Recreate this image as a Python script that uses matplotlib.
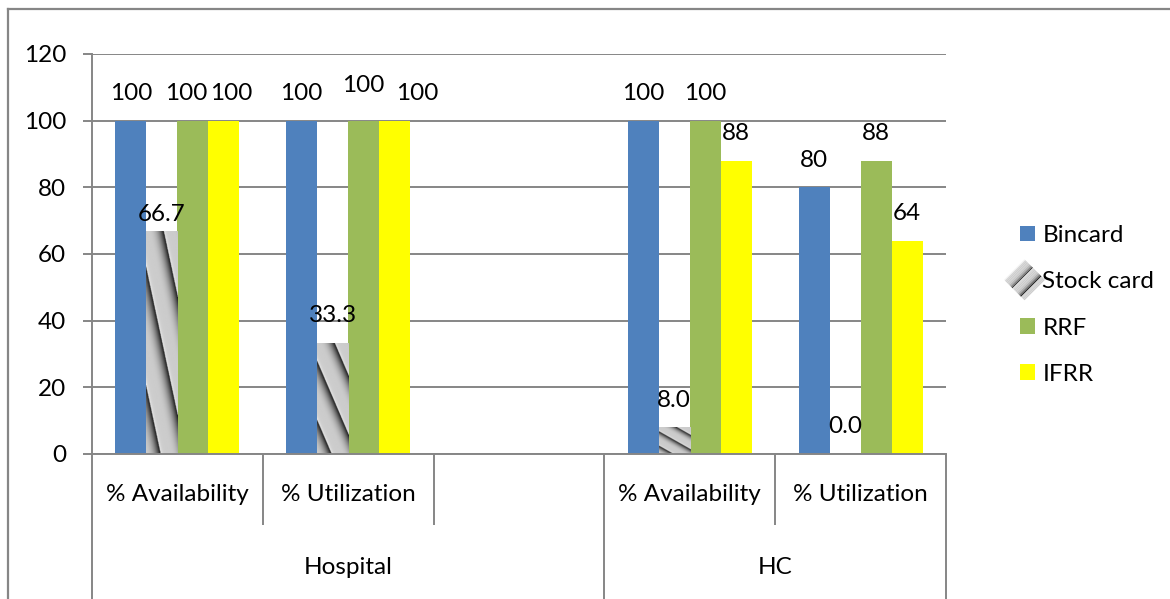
import numpy as np
import matplotlib
matplotlib.use("Agg")
import matplotlib.pyplot as plt
import matplotlib.transforms as mtransforms
from matplotlib.patches import Patch, Polygon
from matplotlib.legend_handler import HandlerBase
from matplotlib.lines import Line2D

plt.rcParams["font.family"] = ["Lato", "DejaVu Sans"]

# ---- data -----------------------------------------------------------------
categories = ["% Availability", "% Utilization", "", "% Availability", "% Utilization"]
groups = ["Hospital", "HC"]
group_members = [[0, 1, 2], [3, 4]]
series_names = ["Bincard", "Stock card", "RRF", "IFRR"]
bincard = [100, 100, np.nan, 100, 80]
stock_card = [66.7, 33.3, np.nan, 8.0, 0.0]
rrf = [100, 100, np.nan, 100, 88]
ifrr = [100, 100, np.nan, 88, 64]
y_ticks = [0, 20, 40, 60, 80, 100, 120]

series_values = [bincard, stock_card, rrf, ifrr]
series_colors = ["#4F81BD", "#C8C8C8", "#9BBB59", "#FFFF00"]
label_formats = ["{:.0f}", "{:.1f}", "{:.0f}", "{:.0f}"]

W, H = 1170, 599
FS = 17.5
GRID = "#868686"


def stripe_profile(p):
    """Grey level across one metallic stripe (p in [0, 1))."""
    g = 0.80 + 0.15 * np.exp(-p / 0.05)
    tail = np.clip((p - 0.35) / 0.65, 0, 1)
    return np.clip(g - 0.72 * tail ** 2.6, 0, 1)


def stripe_texture(rows=400, cols=100):
    u = np.linspace(0, 1, cols)[None, :]
    v = np.linspace(0, 1, rows)[:, None]
    p = np.mod((u - 1.5 * v) / 0.8 + 0.3, 1.0)
    return stripe_profile(p)


TEX = stripe_texture()


class StockCardHandler(HandlerBase):
    """Diamond-shaped striped legend key."""

    def create_artists(self, legend, orig_handle, xdescent, ydescent,
                       width, height, fontsize, trans):
        cx = -xdescent + width * 0.3
        cy = -ydescent + height / 2
        r = height * 1.3
        left = np.array([cx - r, cy])
        top = np.array([cx, cy + r])
        bottom = np.array([cx, cy - r])
        e1 = top - left
        e2 = bottom - left
        n = 24
        arts = []
        for i in range(n):
            a0, a1 = i / n, (i + 1) / n
            pts = [left + a0 * e2, left + a1 * e2,
                   left + a1 * e2 + e1, left + a0 * e2 + e1]
            val = float(stripe_profile(np.mod(a0 * 2.5, 1.0)))
            arts.append(Polygon(pts, closed=True, facecolor=(val, val, val),
                                edgecolor="none", transform=trans))
        return arts


fig = plt.figure(figsize=(W / 100, H / 100), dpi=100)
ax = fig.add_axes([92 / W, 1 - 454 / H, (946 - 92) / W, 400 / H])

x = np.arange(len(categories))
bw = 0.1815

# small nudges (points) for data labels that would collide
nudges = {(0, 1): (0, -7), (0, 2): (-5, 0), (0, 3): (5, 0),
          (1, 2): (0, 6), (1, 3): (16, 0)}

for si, (vals, col, fmt) in enumerate(zip(series_values, series_colors, label_formats)):
    xs = x + (si - 1.5) * bw
    ax.bar(xs, vals, bw, color=col, zorder=2, linewidth=0)
    for ci, (xc, val) in enumerate(zip(xs, vals)):
        if np.isnan(val):
            continue
        if si == 1 and val > 0:
            ax.imshow(TEX, cmap="gray", vmin=0, vmax=1, origin="upper",
                      extent=[xc - bw / 2, xc + bw / 2, 0, val],
                      aspect="auto", interpolation="bilinear", zorder=2.5)
        dx, dy = nudges.get((ci, si), (0, 0))
        ax.annotate(fmt.format(val), xy=(xc, val), xytext=(dx, 19.5 + dy),
                    textcoords="offset points", ha="center", va="center",
                    fontsize=FS, color="black", zorder=4)

ax.set_xlim(-0.5, len(categories) - 0.5)
ax.set_ylim(0, 120)
ax.set_aspect("auto")
ax.set_yticks(y_ticks)
ax.yaxis.grid(True, color=GRID, linewidth=1.4)
ax.set_axisbelow(True)
ax.set_xticks([])
ax.tick_params(axis="y", length=6.5, width=1.4, color=GRID, pad=12, labelsize=FS)
for s in ("top", "right"):
    ax.spines[s].set_visible(False)
for s in ("left", "bottom"):
    ax.spines[s].set_color(GRID)
    ax.spines[s].set_linewidth(1.4)

# two-level category axis
blend = mtransforms.blended_transform_factory(ax.transData, ax.transAxes)
for i, c in enumerate(categories):
    if c:
        ax.text(i, -0.102, c, transform=blend, ha="center", va="center", fontsize=FS)
for g, members in zip(groups, group_members):
    ax.text(np.mean([members[0], members[-1]]), -0.2825, g, transform=blend,
            ha="center", va="center", fontsize=FS)

group_edges = {-0.5} | {m[-1] + 0.5 for m in group_members}
for b in np.arange(-0.5, len(categories), 1.0):
    y_end = -0.40 if b in group_edges else -0.1775
    ax.plot([b, b], [0, y_end], transform=blend, color=GRID, lw=1.4,
            clip_on=False, solid_capstyle="butt", zorder=1)

# legend
handles = [Patch(facecolor=c, edgecolor="none", label=n)
           for c, n in zip(series_colors, series_names)]
fig.legend(handles=handles, loc="center left",
           bbox_to_anchor=(1020 / W, 1 - 305 / H), frameon=False,
           fontsize=FS, handlelength=0.62, handleheight=0.62,
           handletextpad=0.3, labelspacing=1.04, borderpad=0, borderaxespad=0,
           handler_map={handles[1]: StockCardHandler()})

# outer chart border
fig.add_artist(Line2D([8 / W, 8 / W], [0, 1 - 9 / H], transform=fig.transFigure,
                      color=GRID, lw=1.6))
fig.add_artist(Line2D([8 / W, 1], [1 - 9 / H, 1 - 9 / H], transform=fig.transFigure,
                      color=GRID, lw=1.6))

fig.savefig("out.png", dpi=100)
